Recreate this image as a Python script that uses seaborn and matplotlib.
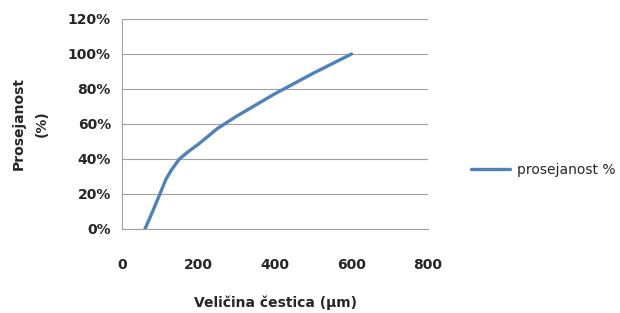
import numpy as np
import pandas as pd
import seaborn as sns
import matplotlib.pyplot as plt
from matplotlib.ticker import PercentFormatter

velicina = [60, 80, 100, 115, 130, 150, 175, 200, 250, 300, 400, 500, 600]
prosejanost = [0, 10, 20.5, 28.5, 34, 40, 44.5, 48.5, 57.5, 64.5, 77.3, 89, 100]

df = pd.DataFrame({"velicina": velicina, "prosejanost": prosejanost})

sns.set_style("white")
plt.rcParams['font.family'] = ['DejaVu Sans']

fig = plt.figure(figsize=(6.2, 3.13), dpi=100)
ax = fig.add_axes([122 / 620, 1 - 229 / 313, 306 / 620, 210 / 313])

sns.lineplot(data=df, x="velicina", y="prosejanost", ax=ax, color="#4F81BD",
             linewidth=2.4, label="prosejanost %")

ax.set_xlim(0, 800)
ax.set_ylim(0, 120)
ax.set_xticks([0, 200, 400, 600, 800])
ax.set_yticks([0, 20, 40, 60, 80, 100, 120])
ax.yaxis.set_major_formatter(PercentFormatter(decimals=0))
ax.grid(axis='y', color='#A0A0A0', linewidth=0.8)
ax.set_axisbelow(True)

for s in ['top', 'right']:
    ax.spines[s].set_visible(False)
for s in ['left', 'bottom']:
    ax.spines[s].set_color('#A0A0A0')
    ax.spines[s].set_linewidth(0.8)

ax.tick_params(axis='x', length=4, color='#A0A0A0', pad=17, labelsize=10)
ax.tick_params(axis='y', length=4, color='#A0A0A0', pad=4, labelsize=10)
for lab in ax.get_xticklabels() + ax.get_yticklabels():
    lab.set_fontweight('bold')

ax.set_xlabel("Veličina čestica (µm)", fontsize=10, fontweight='bold', labelpad=17)
ax.set_ylabel("Prosejanost\n(%)", fontsize=10, fontweight='bold', labelpad=14,
              linespacing=1.8)

leg = ax.legend(loc='center left', bbox_to_anchor=(1.1, 0.28), frameon=False,
                fontsize=10, handlelength=2.8, handletextpad=0.5)

plt.savefig('out.png', dpi=100)
